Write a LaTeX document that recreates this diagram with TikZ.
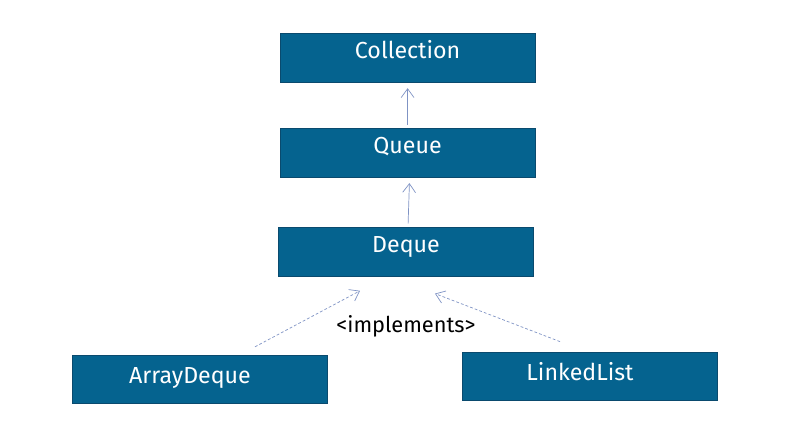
\documentclass[tikz,border=0pt]{standalone}
\usepackage{fontspec}
\setmainfont{Fira Sans}
\usetikzlibrary{arrows.meta,positioning,calc}
\definecolor{boxblue}{HTML}{05638F}
\definecolor{boxedge}{HTML}{0A4A6E}
\definecolor{linkblue}{HTML}{7F93C4}

\begin{document}
\begin{tikzpicture}[
  node distance=1.15cm,
  box/.style={draw=boxedge, line width=0.8pt, fill=boxblue, text=white, font=\fontsize{16.5}{18}\selectfont,
    minimum width=6.375cm, inner xsep=0pt, inner ysep=0pt, text height=0.62cm, text depth=0.6cm},
  lowbox/.style={box, text height=0.7cm, text depth=0.5cm, execute at begin node=\hspace*{-5mm}},
  inherit/.style={->, draw=linkblue, line width=0.5pt, shorten >=1.3mm, shorten <=0.8mm},
  impl/.style={->, draw=linkblue, line width=0.5pt, dashed, dash pattern=on 2pt off 1.5pt},
  >={Straight Barb[length=2.2mm,width=3.2mm]}
]
\useasboundingbox (-10.19,1.45) rectangle (9.81,-9.475);
\node[box] (coll) at (0,0) {Collection};
\node[box, below=1.125cm of coll] (queue) {Queue};
\node[box, below=1.225cm of queue, xshift=-0.04cm] (deque) {Deque};
\node[lowbox, below=1.95cm of deque, xshift=-5.15cm] (adeque) {ArrayDeque};
\node[lowbox, below=1.87cm of deque, xshift=4.6cm] (llist) {LinkedList};
\node[below=0.85cm of deque, font=\fontsize{15.5}{17}\selectfont] (impl) {<implements>};
\draw[inherit] (queue.north -| coll.south) -- (coll.south);
\draw[inherit] ([xshift=0.05cm]deque.north) -- ([xshift=0.05cm]queue.south);
\draw[impl] ([xshift=1.375cm,yshift=0.2cm]adeque.north) -- ([xshift=-1.15cm,yshift=-0.35cm]deque.south);
\draw[impl] ([xshift=-0.75cm,yshift=0.25cm]llist.north) -- ([xshift=0.725cm,yshift=-0.42cm]deque.south);
\end{tikzpicture}
\end{document}
